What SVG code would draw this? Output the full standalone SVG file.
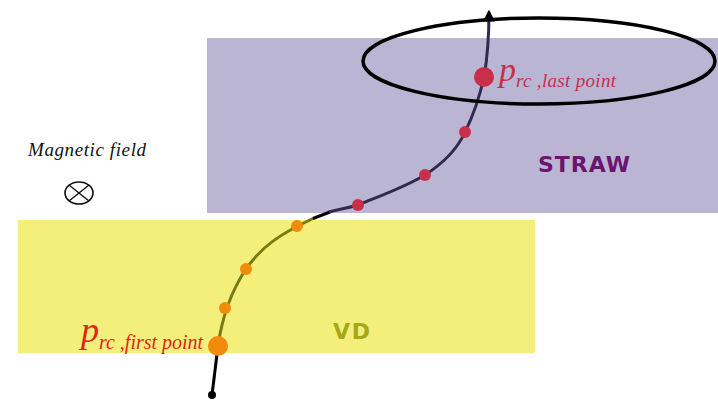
<svg xmlns="http://www.w3.org/2000/svg" width="718" height="405" viewBox="0 0 718 405">
<style>
.lbl{font-family:"Liberation Serif",serif;font-style:italic}
.det{font-family:"DejaVu Sans","Liberation Sans",sans-serif;font-weight:bold;font-size:22px}
.ring{fill:none;stroke:#000;stroke-width:3.5}
</style>
<defs>
<marker id="arr" viewBox="0 0 10 10" refX="8" refY="5" markerWidth="4" markerHeight="4" orient="auto">
<path d="M0,0 L10,5 L0,10 z" fill="#000"/>
</marker>
</defs>
<rect width="718" height="405" fill="#fff"/>
<g id="straw">
<rect x="207" y="38" width="511" height="175" fill="#bab5d3"/>
<text class="det" x="538" y="172" fill="#6b1470" textLength="92">STRAW</text>
</g>
<g id="vd">
<rect x="18" y="220" width="517" height="133" fill="#f3ef7a"/>
<text class="det" x="333" y="339" fill="#a5a818" textLength="37">VD</text>
</g>
<g id="field">
<text class="lbl" x="28" y="156" font-size="19" fill="#111" textLength="118">Magnetic field</text>
<ellipse cx="79" cy="193" rx="14" ry="11" fill="none" stroke="#111" stroke-width="1.6"/>
<line x1="69" y1="201" x2="89" y2="185" stroke="#111" stroke-width="1.4"/>
<line x1="69" y1="185" x2="89" y2="201" stroke="#111" stroke-width="1.4"/>
</g>
<g id="connectors">
<path d="M212,395 L218,346" stroke="#000" stroke-width="3" fill="none"/>
<path d="M218,346 C222,318 232,290 246,269 C262,246 280,234 314,218" stroke="#7a7a10" stroke-width="3" fill="none"/>
<path d="M313,218.5 L330,212" stroke="#000" stroke-width="3" fill="none"/>
<path d="M329,212 C345,208 352,207 358,205 C385,194 405,187 425,175 C445,162 458,148 465,132 C475,112 480,95 484,77 C487,60 489,40 489,12" stroke="#2e2b4f" stroke-width="3" fill="none" marker-end="url(#arr)"/>
</g>
<g id="track-points">
<circle cx="212" cy="395" r="4" fill="#000"/>
<circle cx="225" cy="308" r="6" fill="#f28a0c"/>
<circle cx="246" cy="269" r="6" fill="#f28a0c"/>
<circle cx="297" cy="226" r="6" fill="#f28a0c"/>
<circle cx="218" cy="346" r="10" fill="#f28a0c"/>
<circle cx="358" cy="205" r="6" fill="#c8304a"/>
<circle cx="425" cy="175" r="6" fill="#c8304a"/>
<circle cx="465" cy="132" r="6" fill="#c8304a"/>
<circle cx="484" cy="77" r="10" fill="#c8304a"/>
</g>
<g id="ring">
<ellipse class="ring" cx="539" cy="61" rx="176" ry="43"/>
</g>
<g id="first-label">
<text class="lbl" fill="#e2231a" x="81" y="342"><tspan font-size="36">p</tspan><tspan font-size="20" dy="7" textLength="104">rc ,first point</tspan></text>
</g>
<g id="last-label">
<text class="lbl" fill="#c8304a" x="499" y="81"><tspan font-size="34">p</tspan><tspan font-size="19" dy="6" textLength="100">rc ,last point</tspan></text>
</g>
</svg>
